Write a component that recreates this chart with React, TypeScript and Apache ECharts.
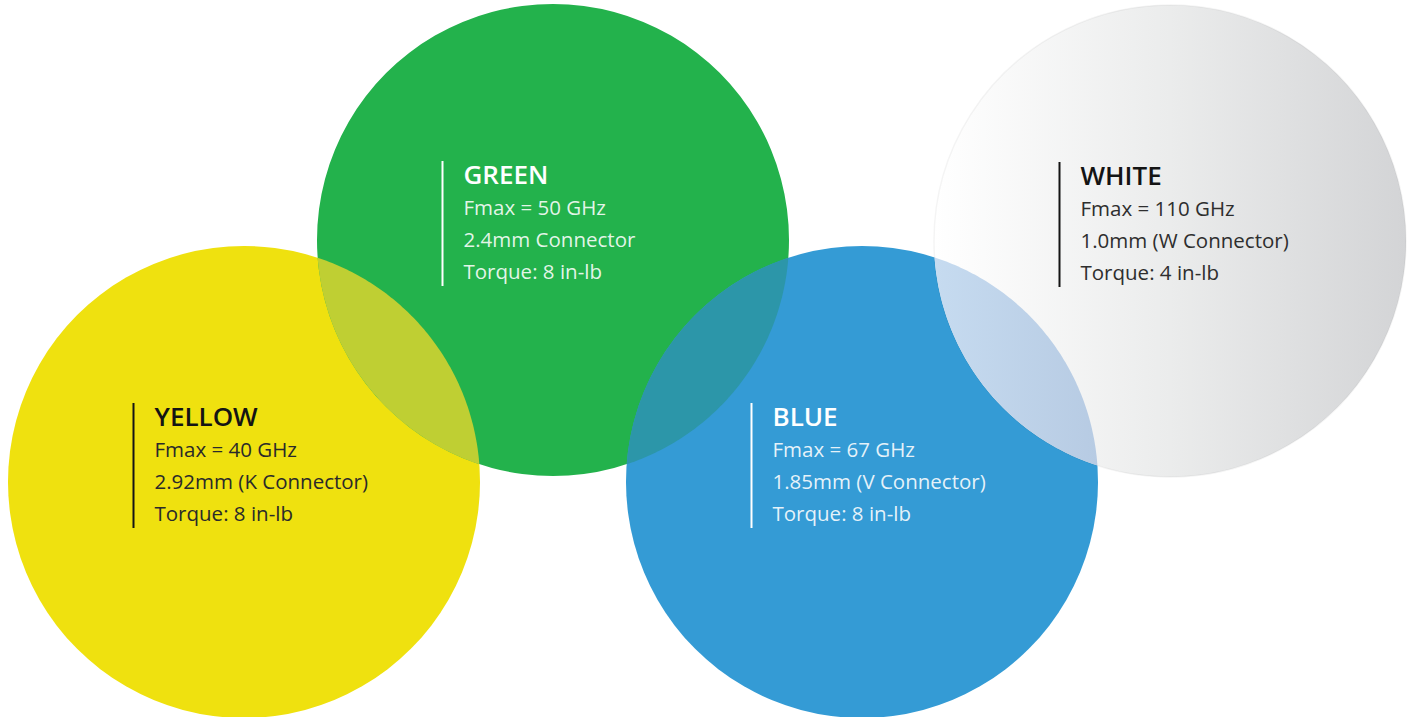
import React, { useEffect, useRef } from 'react';
import * as echarts from 'echarts';

// ---- data ----
const names = ['YELLOW', 'GREEN', 'BLUE', 'WHITE'];
const fmaxLabels = ['Fmax = 40 GHz', 'Fmax = 50 GHz', 'Fmax = 67 GHz', 'Fmax = 110 GHz'];
const connectorLabels = ['2.92mm (K Connector)', '2.4mm Connector', '1.85mm (V Connector)', '1.0mm (W Connector)'];
const torqueLabels = ['Torque: 8 in-lb', 'Torque: 8 in-lb', 'Torque: 8 in-lb', 'Torque: 4 in-lb'];
const centerX = [244, 553, 862, 1170];
const centerY = [482, 240, 482, 241];
const radii = [236, 236, 236, 236];
const overlapPairs = [
  [0, 1],
  [1, 2],
  [2, 3],
];

// ---- styles ----
const circleFills: any[] = [
  '#efe10f',
  '#23b24c',
  '#349bd5',
  {
    type: 'linear', x: 0, y: 0, x2: 1, y2: 0,
    colorStops: [
      { offset: 0, color: '#ffffff' },
      { offset: 0.5, color: '#ebecec' },
      { offset: 1, color: '#d3d4d6' },
    ],
  },
];
const circleStrokes = ['none', 'none', 'none', 'rgba(0,0,0,0.045)'];
const overlapFills: any[] = [
  '#bfcf33',
  '#2c96a9',
  {
    type: 'linear', x: 0, y: 0, x2: 1, y2: 0,
    colorStops: [
      { offset: 0, color: '#c6dbf0' },
      { offset: 1, color: '#b7cbe3' },
    ],
  },
];
const titleColors = ['#141414', '#ffffff', '#ffffff', '#141414'];
const bodyColors = ['#2a2a2a', 'rgba(255,255,255,0.88)', 'rgba(255,255,255,0.88)', '#2e2e2e'];
const barColors = ['#141414', '#ffffff', '#ffffff', '#141414'];
const FONT = '"Open Sans", Lato, "Noto Sans", sans-serif';

function lensPoints(ax: number, ay: number, ar: number, bx: number, by: number, br: number) {
  const dx = bx - ax;
  const dy = by - ay;
  const d = Math.sqrt(dx * dx + dy * dy);
  if (d >= ar + br || d === 0) return [];
  const theta = Math.atan2(dy, dx);
  const alphaA = Math.acos(Math.min(1, (d * d + ar * ar - br * br) / (2 * d * ar)));
  const alphaB = Math.acos(Math.min(1, (d * d + br * br - ar * ar) / (2 * d * br)));
  const pts: number[][] = [];
  const n = 90;
  for (let i = 0; i <= n; i++) {
    const t = theta - alphaA + (2 * alphaA * i) / n;
    pts.push([ax + ar * Math.cos(t), ay + ar * Math.sin(t)]);
  }
  const thetaB = theta + Math.PI;
  for (let i = 0; i <= n; i++) {
    const t = thetaB - alphaB + (2 * alphaB * i) / n;
    pts.push([bx + br * Math.cos(t), by + br * Math.sin(t)]);
  }
  return pts;
}

export default function App() {
  const ref = useRef<HTMLDivElement>(null);

  useEffect(() => {
    if (!ref.current) return;
    const chart = echarts.init(ref.current, null, { renderer: 'svg' });

    const circleData = names.map((_, i) => [centerX[i], centerY[i], radii[i], i]);
    const lensData = overlapPairs.map(([a, b], k) => [
      centerX[a], centerY[a], radii[a], centerX[b], centerY[b], radii[b], k,
    ]);
    const labelData = names.map((_, i) => [centerX[i], centerY[i], i]);

    const bodyStyle = (i: number, text: string) => ({
      text, fill: bodyColors[i], fontSize: 20.5, fontWeight: 400,
      fontFamily: FONT, align: 'left', verticalAlign: 'middle',
    });

    const option: any = {
      animation: false,
      backgroundColor: '#ffffff',
      grid: { left: 0, right: 0, top: 0, bottom: 0 },
      xAxis: { type: 'value', min: 0, max: 1409, show: false },
      yAxis: { type: 'value', min: 0, max: 717, inverse: true, show: false },
      series: [
        {
          type: 'custom',
          name: 'circles',
          clip: false,
          silent: true,
          data: circleData,
          renderItem: (params: any, api: any) => {
            const i = api.value(3);
            const c = api.coord([api.value(0), api.value(1)]);
            const r = api.size([api.value(2), 0])[0];
            return {
              type: 'circle',
              shape: { cx: c[0], cy: c[1], r },
              style: { fill: circleFills[i], stroke: circleStrokes[i], lineWidth: 1.5 },
            };
          },
        },
        {
          type: 'custom',
          name: 'overlaps',
          clip: false,
          silent: true,
          data: lensData,
          renderItem: (params: any, api: any) => {
            const k = api.value(6);
            const a = api.coord([api.value(0), api.value(1)]);
            const ar = api.size([api.value(2), 0])[0];
            const b = api.coord([api.value(3), api.value(4)]);
            const br = api.size([api.value(5), 0])[0];
            const pts = lensPoints(a[0], a[1], ar, b[0], b[1], br);
            return {
              type: 'polygon',
              shape: { points: pts },
              style: { fill: overlapFills[k] },
            };
          },
        },
        {
          type: 'custom',
          name: 'labels',
          clip: false,
          silent: true,
          data: labelData,
          renderItem: (params: any, api: any) => {
            const i = api.value(2);
            const c = api.coord([api.value(0), api.value(1)]);
            const tx = c[0] - 89.5;
            return {
              type: 'group',
              children: [
                {
                  type: 'rect',
                  shape: { x: c[0] - 111.5, y: c[1] - 79, width: 2, height: 125 },
                  style: { fill: barColors[i] },
                },
                {
                  type: 'text',
                  x: tx,
                  y: c[1] - 66.5,
                  style: {
                    text: names[i], fill: titleColors[i], fontSize: 26, fontWeight: 600,
                    fontFamily: FONT, align: 'left', verticalAlign: 'middle',
                  },
                },
                { type: 'text', x: tx, y: c[1] - 33, style: bodyStyle(i, fmaxLabels[i]) },
                { type: 'text', x: tx, y: c[1] - 0.7, style: bodyStyle(i, connectorLabels[i]) },
                { type: 'text', x: tx, y: c[1] + 31.3, style: bodyStyle(i, torqueLabels[i]) },
              ],
            };
          },
        },
      ],
    };

    chart.setOption(option);
    return () => chart.dispose();
  }, []);

  return (
    <div
      ref={ref}
      style={{ position: 'fixed', left: 0, top: 0, width: 1409, height: 717, background: '#ffffff' }}
    />
  );
}
